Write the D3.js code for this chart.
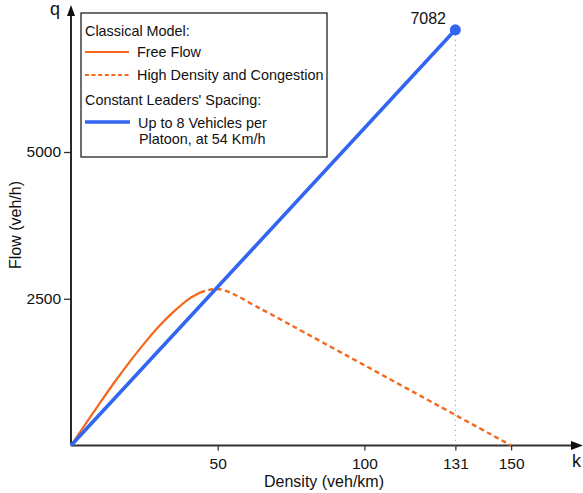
<!DOCTYPE html>
<html><head><meta charset="utf-8">
<script src="https://cdn.jsdelivr.net/npm/d3@7"></script>
<style>
html,body{margin:0;padding:0;background:#fff;}
text{font-family:"Liberation Sans",Arial,Helvetica,sans-serif;fill:#111;}
</style></head>
<body><svg id="c" width="583" height="493"></svg>
<script>
// ---- data ----
const xTicks = [50, 100, 131, 150];
const yTicks = [2500, 5000];
const freeFlowK = [0, 5, 10, 15, 20, 25, 30, 35, 40, 44];
const freeFlowQ = [0, 370, 735, 1090, 1425, 1740, 2030, 2280, 2490, 2605];
const congestK = [44, 47, 50, 53, 57, 62, 68, 150];
const congestQ = [2605, 2650, 2665, 2630, 2540, 2400, 2240, 0];
const platoonK = [0, 131];
const platoonQ = [0, 7082];
const peakLabel = "7082";
const legendItems = ["Classical Model:", "Free Flow", "High Density and Congestion", "Constant Leaders' Spacing:", "Up to 8 Vehicles per", "Platoon, at 54 Km/h"];

const ORANGE = "#f4681e", BLUE = "#3366f0";
const svg = d3.select("#c");
const x = d3.scaleLinear().domain([0, 150]).range([71, 511.1]);
const y = d3.scaleLinear().domain([0, 5000]).range([445.5, 152]);

// axes
const xAxis = svg.append("g").attr("transform", `translate(0,${y(0)})`)
  .call(d3.axisBottom(x).tickValues(xTicks).tickFormat(d3.format("d")).tickSize(5).tickPadding(7).tickSizeOuter(0));
xAxis.select(".domain").remove();
xAxis.selectAll("line").attr("stroke", "#333").attr("stroke-width", 1.3);
xAxis.selectAll("text").attr("font-size", 15.5).attr("fill", "#111").attr("font-family", "Liberation Sans, Arial, sans-serif");

const yAxis = svg.append("g").attr("transform", `translate(${x(0)},0)`)
  .call(d3.axisLeft(y).tickValues(yTicks).tickFormat(d3.format("d")).tickSize(7).tickPadding(3).tickSizeOuter(0));
yAxis.select(".domain").remove();
yAxis.selectAll("line").attr("stroke", "#333").attr("stroke-width", 1.3);
yAxis.selectAll("text").attr("font-size", 15.5).attr("fill", "#111").attr("font-family", "Liberation Sans, Arial, sans-serif");

// axis lines with arrows
svg.append("line").attr("x1", x(0)).attr("x2", 574).attr("y1", y(0)).attr("y2", y(0)).attr("stroke", "#333").attr("stroke-width", 1.8);
svg.append("path").attr("d", `M583,${y(0)} L571,${y(0)-4.5} L571,${y(0)+4.5} Z`).attr("fill", "#111");
svg.append("line").attr("x1", x(0)).attr("x2", x(0)).attr("y1", y(0)).attr("y2", 14).attr("stroke", "#111").attr("stroke-width", 1.8);
svg.append("path").attr("d", `M${x(0)},5 L${x(0)-4},16 L${x(0)+4},16 Z`).attr("fill", "#111");

svg.append("text").attr("x", 572).attr("y", 467).attr("font-size", 18).text("k");
svg.append("text").attr("x", 50).attr("y", 15).attr("font-size", 18).text("q");
svg.append("text").attr("x", 324).attr("y", 487).attr("text-anchor", "middle").attr("font-size", 16).text("Density (veh/km)");
svg.append("text").attr("transform", "translate(21,225) rotate(-90)").attr("text-anchor", "middle").attr("font-size", 16).text("Flow (veh/h)");

// dotted guide
svg.append("line").attr("x1", x(131)).attr("x2", x(131)).attr("y1", y(7082)).attr("y2", y(0))
  .attr("stroke", "#888").attr("stroke-width", 1).attr("stroke-dasharray", "1,4");

const line = d3.line().x(d => x(d[0])).y(d => y(d[1])).curve(d3.curveCatmullRom.alpha(0.5));
const ff = freeFlowK.map((k, i) => [k, freeFlowQ[i]]);
const cg = congestK.map((k, i) => [k, congestQ[i]]);
const pl = platoonK.map((k, i) => [k, platoonQ[i]]);

svg.append("path").attr("d", line(cg)).attr("fill", "none").attr("stroke", ORANGE).attr("stroke-width", 2.4).attr("stroke-dasharray", "5,3.5");
svg.append("path").attr("d", line(ff)).attr("fill", "none").attr("stroke", ORANGE).attr("stroke-width", 2.2);
svg.append("path").attr("d", d3.line().x(d => x(d[0])).y(d => y(d[1]))(pl)).attr("fill", "none").attr("stroke", BLUE).attr("stroke-width", 3.6);
svg.append("circle").attr("cx", x(131)).attr("cy", y(7082)).attr("r", 5.5).attr("fill", BLUE);
svg.append("text").attr("x", 446).attr("y", 24).attr("text-anchor", "end").attr("font-size", 16).text(peakLabel);

// legend
const lg = svg.append("g");
lg.append("rect").attr("x", 81).attr("y", 13).attr("width", 246).attr("height", 144).attr("fill", "#fff").attr("stroke", "#222").attr("stroke-width", 1.3);
lg.append("text").attr("x", 85).attr("y", 36).attr("font-size", 14.4).text(legendItems[0]);
lg.append("line").attr("x1", 85).attr("x2", 129).attr("y1", 52).attr("y2", 52).attr("stroke", ORANGE).attr("stroke-width", 2.2);
lg.append("text").attr("x", 137).attr("y", 57).attr("font-size", 14.4).text(legendItems[1]);
lg.append("line").attr("x1", 85).attr("x2", 129).attr("y1", 75).attr("y2", 75).attr("stroke", ORANGE).attr("stroke-width", 2.2).attr("stroke-dasharray", "4,2.6");
lg.append("text").attr("x", 137).attr("y", 80).attr("font-size", 14.4).text(legendItems[2]);
lg.append("text").attr("x", 85).attr("y", 105).attr("font-size", 14.4).text(legendItems[3]);
lg.append("line").attr("x1", 85).attr("x2", 130).attr("y1", 122).attr("y2", 122).attr("stroke", BLUE).attr("stroke-width", 3.6);
lg.append("text").attr("x", 138).attr("y", 128).attr("font-size", 14.4).text(legendItems[4]);
lg.append("text").attr("x", 139).attr("y", 144).attr("font-size", 14.4).text(legendItems[5]);
</script></body></html>
